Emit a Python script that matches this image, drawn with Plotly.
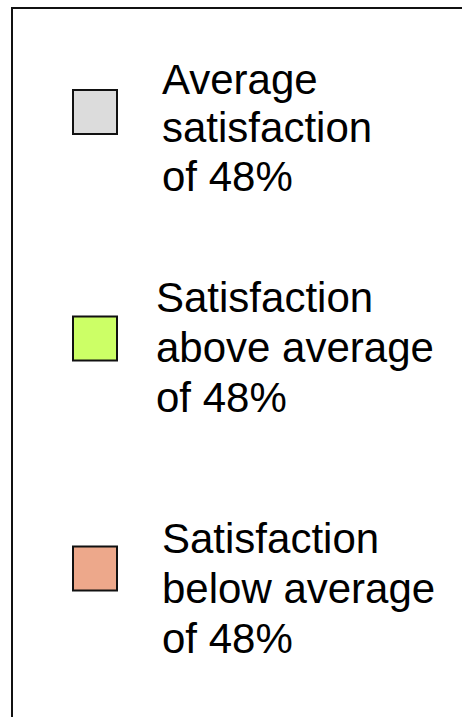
import plotly.graph_objects as go

# Legend content
item_lines = [
    ["Average", "satisfaction", "of 48%"],
    ["Satisfaction", "above average", "of 48%"],
    ["Satisfaction", "below average", "of 48%"],
]
item_colors = ["#DCDCDC", "#CCFF66", "#EDA88B"]

# Layout positions (screen-pixel-like coordinates)
swatch_x = 95
swatch_y = [112, 338.5, 568.5]
text_x = [160, 154, 160]
first_baseline = [92, 310, 551]
line_step = [48.5, 50, 50]
font_size = 42

fig = go.Figure()

for lines, color, sy in zip(item_lines, item_colors, swatch_y):
    fig.add_trace(go.Scatter(
        x=[swatch_x], y=[sy], mode="markers",
        marker=dict(symbol="square", size=44, color=color,
                    line=dict(color="#111111", width=2)),
        showlegend=False, hoverinfo="skip",
    ))

for lines, tx, b0, step in zip(item_lines, text_x, first_baseline, line_step):
    for i, ln in enumerate(lines):
        base = b0 + i * step
        fig.add_annotation(
            x=tx, y=base - 0.30 * font_size, xref="x", yref="y",
            text=ln, showarrow=False, xanchor="left", yanchor="middle",
            font=dict(family="Liberation Sans, Arial, sans-serif", size=font_size, color="#000000"),
        )

fig.add_shape(type="rect", x0=12, y0=8, x1=490, y1=760, xref="x", yref="y",
              line=dict(color="#111111", width=2), fillcolor="rgba(0,0,0,0)", layer="below")

fig.update_layout(
    width=462, height=717,
    margin=dict(l=0, r=0, t=0, b=0),
    paper_bgcolor="white", plot_bgcolor="white",
    xaxis=dict(range=[0, 462], visible=False, fixedrange=True),
    yaxis=dict(range=[717, 0], visible=False, fixedrange=True),
)

fig.write_html(
    "out.html",
    config={"displayModeBar": False},
    post_script="document.body.style.margin='0';document.body.style.overflow='hidden';",
)
